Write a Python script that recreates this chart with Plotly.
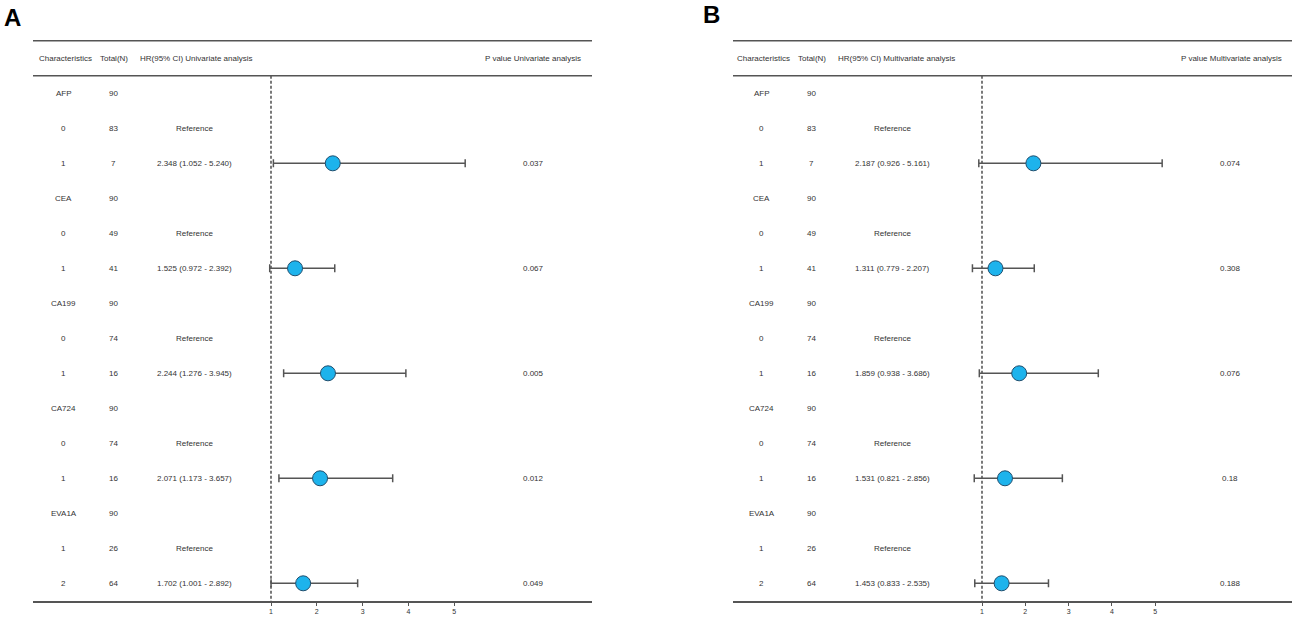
import plotly.graph_objects as go

# ---------------- data ----------------
characteristics = ["AFP", "0", "1", "CEA", "0", "1", "CA199", "0", "1",
                   "CA724", "0", "1", "EVA1A", "1", "2"]
total_n = [90, 83, 7, 90, 49, 41, 90, 74, 16, 90, 74, 16, 90, 26, 64]
reference_rows = [1, 4, 7, 10, 13]
estimate_rows = [2, 5, 8, 11, 14]

uni_hr = [2.348, 1.525, 2.244, 2.071, 1.702]
uni_lo = [1.052, 0.972, 1.276, 1.173, 1.001]
uni_hi = [5.240, 2.392, 3.945, 3.657, 2.892]
uni_p = ["0.037", "0.067", "0.005", "0.012", "0.049"]

multi_hr = [2.187, 1.311, 1.859, 1.531, 1.453]
multi_lo = [0.926, 0.779, 0.938, 0.821, 0.833]
multi_hi = [5.161, 2.207, 3.686, 2.856, 2.535]
multi_p = ["0.074", "0.308", "0.076", "0.18", "0.188"]

tick_vals = [1, 2, 3, 4, 5]

# ---------------- layout helpers ----------------
W, H = 1299, 620
ROW0, ROWH = 93.3, 35.0   # pixel y of first row, row spacing
BOTTOM = 601.0            # pixel y of axis line
TXT = "#333333"
LINE = "#555555"
FONT = "Liberation Sans, Arial, sans-serif"


def px(x):
    return x / W


panels = [
    dict(name="A", xa="x", left=33, right=592, one=271, unit=45.8, off=0,
         hr=uni_hr, lo=uni_lo, hi=uni_hi, p=uni_p, kind="Univariate",
         letter_x=12, letter_y=17, pcol=533, pright=583),
    dict(name="B", xa="x2", left=733, right=1292, one=982, unit=43.3, off=698,
         hr=multi_hr, lo=multi_lo, hi=multi_hi, p=multi_p, kind="Multivariate",
         letter_x=711, letter_y=14, pcol=1230, pright=1284),
]

fig = go.Figure()
annotations = []
shapes = []
layout_axes = {}

y_top = -ROW0 / ROWH
y_bot = (BOTTOM - ROW0) / ROWH

for k, pn in enumerate(panels):
    axname = "xaxis" if k == 0 else "xaxis2"
    rng = [1 + (pn["left"] - pn["one"]) / pn["unit"],
           1 + (pn["right"] - pn["one"]) / pn["unit"]]
    layout_axes[axname] = dict(
        domain=[px(pn["left"]), px(pn["right"])], range=rng, anchor="y",
        tickvals=tick_vals, ticktext=[str(v) for v in tick_vals],
        ticks="outside", ticklen=3, tickwidth=1, tickcolor=LINE,
        showline=True, linecolor=LINE, linewidth=1.5, showgrid=False,
        zeroline=False, tickfont=dict(size=7, color=TXT, family=FONT),
        fixedrange=True,
    )
    o = pn["off"]
    # forest points
    fig.add_trace(go.Scatter(
        x=pn["hr"], y=estimate_rows, xaxis=pn["xa"], yaxis="y",
        mode="markers",
        marker=dict(size=15, color="#1DB3EC",
                    line=dict(color="#1F4E6E", width=1)),
        error_x=dict(type="data", symmetric=False,
                     array=[h - m for h, m in zip(pn["hi"], pn["hr"])],
                     arrayminus=[m - l for m, l in zip(pn["hr"], pn["lo"])],
                     color=LINE, thickness=1.5, width=4),
        showlegend=False, hoverinfo="skip",
    ))
    # dashed reference line at HR=1
    shapes.append(dict(type="line", xref=pn["xa"], yref="y", x0=1, x1=1,
                       y0=-0.5, y1=y_bot + 0.12,
                       line=dict(color="#333333", width=1.3, dash="3px,2px"),
                       layer="below"))
    # header lines
    for yy in (-1.5, -0.5):
        shapes.append(dict(type="line", xref="paper", yref="y",
                           x0=px(pn["left"]), x1=px(pn["right"]),
                           y0=yy, y1=yy, line=dict(color=LINE, width=1.5)))
    # panel letter
    annotations.append(dict(text="<b>" + pn["name"] + "</b>", xref="paper",
                            yref="paper", x=px(pn["letter_x"]),
                            y=1 - pn["letter_y"] / H, showarrow=False,
                            xanchor="center", yanchor="middle",
                            font=dict(size=24, color="#000", family=FONT)))
    # headers
    f = dict(size=8, color=TXT, family=FONT)
    annotations += [
        dict(text="Characteristics", x=px(65 + o), y=-1, xanchor="center", font=f),
        dict(text="Total(N)", x=px(114 + o), y=-1, xanchor="center", font=f),
        dict(text="HR(95% CI) " + pn["kind"] + " analysis", x=px(138 + o), y=-1,
             xanchor="left", font=f),
        dict(text="P value " + pn["kind"] + " analysis", x=px(pn["pright"]), y=-1,
             xanchor="right", font=f),
    ]
    # rows
    for i, (c, n) in enumerate(zip(characteristics, total_n)):
        annotations.append(dict(text=c, x=px(64 + o), y=i, xanchor="center", font=f))
        annotations.append(dict(text=str(n), x=px(113 + o), y=i, xanchor="center", font=f))
    for i in reference_rows:
        annotations.append(dict(text="Reference", x=px(194 + o), y=i,
                                xanchor="center", font=f))
    for j, i in enumerate(estimate_rows):
        annotations.append(dict(
            text="{:.3f} ({:.3f} - {:.3f})".format(pn["hr"][j], pn["lo"][j], pn["hi"][j]),
            x=px(194 + o), y=i, xanchor="center", font=f))
        annotations.append(dict(text=pn["p"][j], x=px(pn["pcol"]), y=i,
                                xanchor="center", font=f))

for a in annotations:
    a.setdefault("xref", "paper")
    a.setdefault("yref", "y")
    a.setdefault("showarrow", False)
    a.setdefault("yanchor", "middle")

fig.update_layout(
    width=W, height=H, margin=dict(l=0, r=0, t=0, b=0),
    paper_bgcolor="white", plot_bgcolor="white",
    yaxis=dict(domain=[1 - BOTTOM / H, 1], range=[y_bot, y_top],
               visible=False, fixedrange=True),
    annotations=annotations, shapes=shapes,
    font=dict(family=FONT, color=TXT),
    hovermode=False,
    **layout_axes,
)

# remove the default page margin so the figure sits at the window's top-left
fig.write_html("out.html",
               config={"displayModeBar": False, "staticPlot": True},
               post_script="document.body.style.margin='0px';"
                           "document.body.style.overflow='hidden';")
